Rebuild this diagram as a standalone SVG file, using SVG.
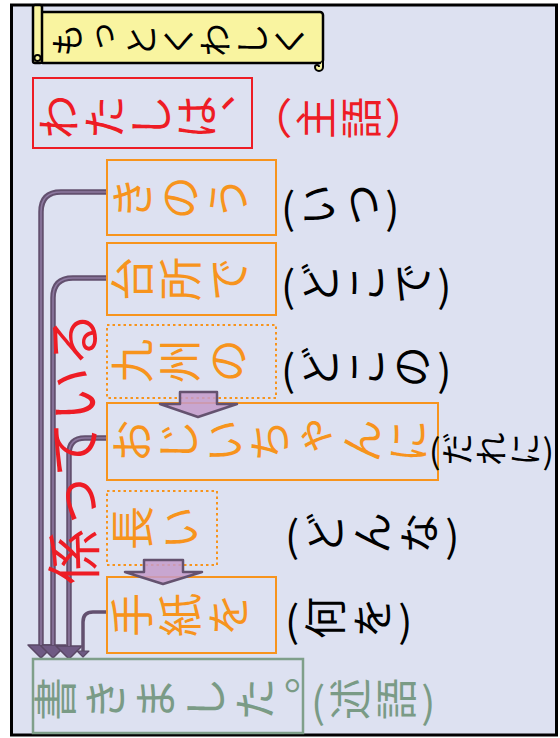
<svg xmlns="http://www.w3.org/2000/svg" width="560" height="738" viewBox="0 0 560 738">
<style>
.jp{font-family:"Noto Sans CJK JP","Noto Sans CJK SC",sans-serif;}
.v{writing-mode:vertical-rl;}
.org{fill:#f7941d;font-size:44px;letter-spacing:4px;}
.box{fill:none;stroke:#f7941d;stroke-width:2;}
.dot{stroke-dasharray:2.5 3;}
.lbl{fill:#000;font-size:42px;letter-spacing:2px;}
.conn{fill:none;stroke:#63506f;stroke-width:5.5;}
.hl{fill:none;stroke:#8d78a0;stroke-width:1.6;}
.blk{fill:#c49bca;fill-opacity:.85;stroke:#64526f;stroke-width:2.5;stroke-linejoin:round;}
</style>
<defs>
<marker id="ah" markerUnits="userSpaceOnUse" markerWidth="30" markerHeight="30" refX="0" refY="13" orient="auto" overflow="visible">
<path d="M0,0 L13,13 L0,26 Z" fill="#6f5a84" stroke="#5a4866" stroke-width="1.5" stroke-linejoin="round"/>
</marker>
<marker id="ahs" markerUnits="userSpaceOnUse" markerWidth="20" markerHeight="20" refX="0" refY="6" orient="auto" overflow="visible">
<path d="M0,0 L6,6 L0,12 Z" fill="#6f5a84" stroke="#5a4866" stroke-width="1.2" stroke-linejoin="round"/>
</marker>
</defs>
<rect x="0" y="0" width="560" height="738" fill="#ffffff"/>
<rect x="11.5" y="5" width="545" height="730" fill="#dde1f1" stroke="#000" stroke-width="3"/>

<g id="title">
<rect x="40" y="12" width="283" height="51" rx="3" fill="#f9f4a0" stroke="#000" stroke-width="2.5"/>
<path d="M323,60 V67 a4,4 0 0 1 -8,0 a2,2 0 0 1 4,0" fill="#f9f4a0" stroke="#000" stroke-width="2"/>
<rect x="33" y="5" width="9" height="58" rx="2" fill="#f9f4a0" stroke="#000" stroke-width="2.5"/>
<circle cx="37.5" cy="58" r="3" fill="none" stroke="#000" stroke-width="1.8"/>
<text class="jp v" x="50" y="40" transform="rotate(-90 50 40)" font-size="34" letter-spacing="3" fill="#000">もっとくわしく</text>
</g>

<g id="subject">
<rect x="33" y="78" width="219" height="70" fill="none" stroke="#ee1c25" stroke-width="2"/>
<text class="jp v" x="36" y="117" transform="rotate(-90 36 117)" font-size="45" letter-spacing="1" fill="#ee1c25">わたしは、</text>
<text class="jp v" x="250" y="118" transform="rotate(-90 250 118)" font-size="42" letter-spacing="3" fill="#ee1c25">（主語）</text>
</g>

<g id="connectors">
<path class="conn" d="M107,192 H61 Q41,192 41,212 V645" marker-end="url(#ah)"/>
<path class="conn" d="M107,278 H73 Q53,278 53,298 V645" marker-end="url(#ah)"/>
<path class="conn" d="M107,438 H85 Q69,438 69,454 V646" marker-end="url(#ah)"/>
<path class="conn" d="M107,612 H93 Q83,612 83,622 V651" style="stroke-width:3.5" marker-end="url(#ahs)"/>
<path class="hl" d="M107,192 H61 Q41,192 41,212 V645"/>
<path class="hl" d="M107,278 H73 Q53,278 53,298 V645"/>
<path class="hl" d="M107,438 H85 Q69,438 69,454 V646"/>
</g>

<g id="kinou">
<rect class="box" x="107" y="160" width="169" height="75"/>
<text class="jp v org" x="110" y="198" transform="rotate(-90 110 198)">きのう</text>
<text class="jp v lbl" x="281" y="205" transform="rotate(-90 281 205)">(いつ)</text>
</g>

<g id="daidokoro">
<rect class="box" x="107" y="243" width="169" height="72"/>
<text class="jp v org" x="110" y="279" transform="rotate(-90 110 279)">台所で</text>
<text class="jp v lbl" x="281" y="283" transform="rotate(-90 281 283)" style="letter-spacing:4px">(どこで)</text>
</g>

<g id="kyushu">
<rect class="box dot" x="107" y="325" width="169" height="73"/>
<text class="jp v org" x="110" y="361" transform="rotate(-90 110 361)">九州の</text>
<text class="jp v lbl" x="281" y="367" transform="rotate(-90 281 367)" style="letter-spacing:4px">(どこの)</text>
</g>

<g id="ojiichan">
<rect class="box" x="107" y="403" width="331" height="77"/>
<text class="jp v org" x="110" y="441" transform="rotate(-90 110 441)" style="letter-spacing:2px">おじいちゃんに</text>
<text class="jp v lbl" x="429" y="449" transform="rotate(-90 429 449)" style="font-size:34px;letter-spacing:0px">(だれに)</text>
</g>

<g id="nagai">
<rect class="box dot" x="107" y="491" width="110" height="74"/>
<text class="jp v org" x="110" y="528" transform="rotate(-90 110 528)">長い</text>
<text class="jp v lbl" x="285" y="533" transform="rotate(-90 285 533)" style="letter-spacing:5px">(どんな)</text>
</g>

<g id="tegami">
<rect class="box" x="107" y="577" width="169" height="76"/>
<text class="jp v org" x="110" y="615" transform="rotate(-90 110 615)">手紙を</text>
<text class="jp v lbl" x="285" y="618" transform="rotate(-90 285 618)" style="letter-spacing:5px">(何を)</text>
</g>

<g id="arrows">
<polygon class="blk" points="180,392 217,392 217,404 237,404 198,417 160,404 180,404"/>
<polygon class="blk" points="144,560 183,560 183,572 202,572 163,584 125,572 144,572"/>
</g>

<g id="predicate">
<rect x="33" y="659" width="270" height="74" fill="none" stroke="#7f9f8a" stroke-width="2.5"/>
<text class="jp v" x="33" y="699" transform="rotate(-90 33 699)" font-size="44" letter-spacing="6" fill="#7a9b86">書きました。</text>
<text class="jp v" x="311" y="699" transform="rotate(-90 311 699)" font-size="42" letter-spacing="4" fill="#7a9b86">(述語)</text>
</g>

<g id="kakatteiru">
<text class="jp" transform="translate(70 448) rotate(-90)" text-anchor="middle" dominant-baseline="central" font-size="55" fill="#ee1c25">係っている</text>
</g>
</svg>
